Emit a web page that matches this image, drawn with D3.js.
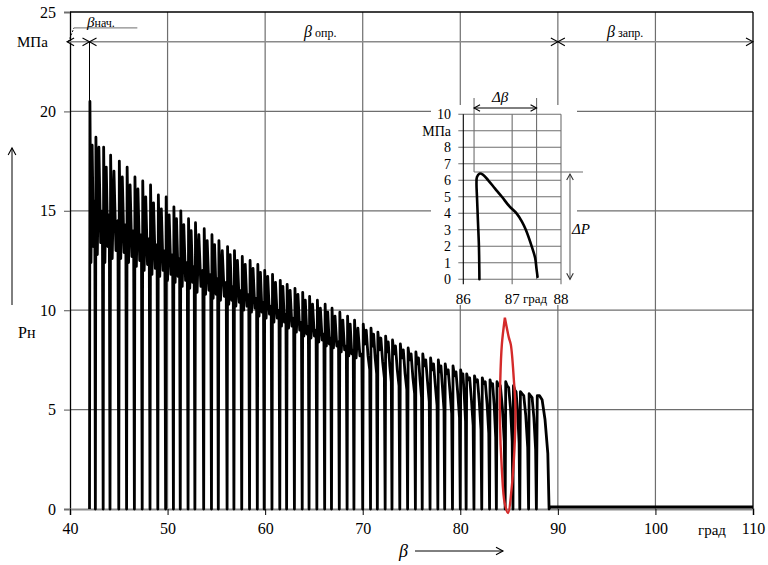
<!DOCTYPE html>
<html><head><meta charset="utf-8">
<script src="https://cdn.jsdelivr.net/npm/d3@7"></script>
<style>
body{margin:0;background:#fff}
svg{display:block}
text{font-family:"Liberation Serif","Times New Roman",serif;fill:#000}
</style>
</head><body>
<svg id="c" width="768" height="565"></svg>
<script>
// ---------- data ----------
const xTicks = [40, 50, 60, 70, 80, 90, 100, 110];
const yTicks = [0, 5, 10, 15, 20, 25];

// angle (deg) of every drop of the pressure to zero
const cycleStart = [
  42.0, 42.6, 43.4, 44.1, 45.0, 45.8, 46.6, 47.4, 48.2, 49.0,
  49.8, 50.6, 51.3, 52.1, 52.8, 53.7, 54.5, 55.2, 56.1, 56.8,
  57.6, 58.4, 59.2, 59.9, 60.7, 61.5, 62.2, 63.0, 63.8, 64.5,
  65.3, 66.1, 66.8, 67.6, 68.4, 69.1, 70.0, 70.8, 71.5, 72.3,
  73.0, 73.8, 74.6, 75.4, 76.1, 76.9, 77.7, 78.4, 79.2, 80.0,
  80.6, 81.4, 82.2, 83.0, 83.7, 84.6, 85.4, 86.1, 87.0, 87.8,
  89.1
];
// pressure inside each cycle: [first peak, trough, second peak, trough, value before drop] (MPa)
const cycleP = [
  [20.5, 12.4, 18.3, 13.2, 15.5], [18.7, 12.8, 18.2, 13.4, 15.0], [18.2, 12.4, 17.2, 13.2, 14.8],
  [17.8, 12.6, 17.0, 13.0, 14.5], [17.5, 12.6, 16.7, 12.9, 14.3], [17.2, 12.4, 16.3, 12.7, 14.0],
  [16.7, 12.2, 16.1, 12.5, 13.8], [16.5, 12.0, 15.7, 12.3, 13.6], [16.3, 11.8, 15.4, 12.1, 13.3],
  [15.8, 11.7, 15.1, 12.0, 13.0], [15.7, 11.5, 14.8, 11.8, 12.8], [15.2, 11.4, 14.6, 11.7, 12.6],
  [15.0, 11.2, 14.3, 11.5, 12.4], [14.6, 11.1, 14.0, 11.4, 12.2], [14.4, 10.9, 13.8, 11.2, 12.0],
  [14.1, 10.8, 13.5, 11.0, 11.8], [13.8, 10.6, 13.3, 10.8, 11.6], [13.5, 10.5, 13.0, 10.7, 11.4],
  [13.2, 10.3, 12.8, 10.5, 11.2], [13.0, 10.2, 12.5, 10.4, 11.0], [12.7, 10.0, 12.3, 10.2, 10.8],
  [12.5, 9.9, 12.1, 10.1, 10.6], [12.3, 9.7, 11.9, 9.9, 10.4], [12.0, 9.6, 11.7, 9.8, 10.2],
  [11.8, 9.4, 11.4, 9.6, 10.0], [11.5, 9.2, 11.2, 9.4, 9.8], [11.3, 9.1, 11.0, 9.2, 9.6],
  [11.1, 8.9, 10.8, 9.0, 9.4], [10.9, 8.7, 10.5, 8.8, 9.2], [10.7, 8.6, 10.3, 8.7, 9.0],
  [10.5, 8.4, 10.1, 8.5, 8.8], [10.3, 8.2, 9.9, 8.3, 8.6], [10.1, 8.1, 9.7, 8.2, 8.4],
  [9.9, 7.9, 9.5, 8.0, 8.2], [9.7, 7.7, 9.3, 7.8, 8.0], [9.5, 7.6, 9.1, 7.7, 7.8],
  [9.3, 8.3, 9.0, 7.7, 7.0], [9.1, 8.2, 8.8, 7.6, 6.8], [8.9, 8.0, 8.6, 7.4, 6.6],
  [8.7, 7.9, 8.4, 7.2, 6.4], [8.5, 7.8, 8.2, 7.0, 6.2], [8.3, 7.6, 8.0, 6.8, 6.0],
  [8.1, 7.5, 7.8, 6.6, 5.8], [7.9, 7.3, 7.6, 6.5, 5.6], [7.8, 7.2, 7.5, 6.4, 5.4],
  [7.6, 7.0, 7.3, 6.2, 5.2], [7.5, 6.9, 7.2, 6.1, 5.0], [7.3, 6.8, 7.0, 5.9, 4.8],
  [7.2, 6.7, 6.9, 5.8, 4.6], [7.0, 6.6, 6.8, 5.7, 4.4], [6.8, 6.5, 6.6, 5.5, 4.2],
  [6.7, 6.4, 6.5, 5.4, 4.0], [6.6, 6.3, 6.4, 5.3, 3.8], [6.5, 6.2, 6.3, 5.2, 3.6],
  [6.4, 6.2, 6.2, 5.1, 3.4], [6.4, 6.2, 6.1, 5.1, 3.4], [6.2, 6.0, 5.9, 4.9, 3.3],
  [5.9, 5.8, 5.7, 4.7, 3.1], [5.8, 5.7, 5.6, 4.6, 3.0], [5.7, 5.7, 5.5, 4.5, 2.8]
];
const cycleFrac = [0.07, 0.25, 0.45, 0.68, 0.9];   // where the five values sit inside a cycle
const tailP = [[89.2, 0.1], [110, 0.1]];             // after the last drop

// range marks on the top line
const rangeBounds = [39.7, 42, 90, 110];
const rangeY = 23.5;

// inset (zoom of one cycle)
const insetXTicks = [86, 87, 88];
const insetYTicks = [0, 1, 2, 3, 4, 5, 6, 7, 8, 9, 10];
const insetCurve = [
  [86.33, 0], [86.32, 2.0], [86.30, 3.5], [86.28, 5.0], [86.27, 5.8], [86.28, 6.2],
  [86.33, 6.4], [86.40, 6.35], [86.51, 6.0], [86.65, 5.5], [86.79, 5.0], [86.95, 4.4],
  [87.09, 4.0], [87.20, 3.5], [87.28, 3.0], [87.40, 2.0], [87.47, 1.3], [87.50, 0.6], [87.52, 0.15]
];
const dBeta = [86.22, 87.5];
const dP = [0, 6.5];

// red hand-drawn loop round one cycle
const redLoop = [
  [84.57, 9.62], [84.98, 8.62], [85.18, 8.27], [85.49, 6.5], [85.66, 5.0], [85.55, 3.0],
  [85.25, 0.97], [84.9, -0.2], [84.55, 0.3], [84.26, 1.98], [84.06, 4.5], [84.1, 6.5],
  [84.26, 8.27], [84.57, 9.62]
];

// ---------- drawing ----------
const svg = d3.select("#c");
const x = d3.scaleLinear().domain([40, 110]).range([70, 753]);
const y = d3.scaleLinear().domain([0, 25]).range([509, 12]);
const GRID = "#6e6e6e";

function chevron(g, px, py, dir, size = 7, col = "#000") {
  const s = size, h = size * 0.55;
  let d;
  if (dir === "r") d = `M${px - s},${py - h}L${px},${py}L${px - s},${py + h}`;
  if (dir === "l") d = `M${px + s},${py - h}L${px},${py}L${px + s},${py + h}`;
  if (dir === "u") d = `M${px - h},${py + s}L${px},${py}L${px + h},${py + s}`;
  if (dir === "d") d = `M${px - h},${py - s}L${px},${py}L${px + h},${py - s}`;
  g.append("path").attr("d", d).attr("fill", "none").attr("stroke", col).attr("stroke-width", 1.1);
}

// grid
const grid = svg.append("g");
grid.selectAll(".vg").data(xTicks.slice(1, -1)).join("line")
  .attr("x1", d => x(d)).attr("x2", d => x(d)).attr("y1", y(25)).attr("y2", y(0))
  .attr("stroke", GRID).attr("stroke-width", 1.2);
grid.selectAll(".hg").data(yTicks.slice(1, -1)).join("line")
  .attr("x1", x(40)).attr("x2", x(110)).attr("y1", d => y(d)).attr("y2", d => y(d))
  .attr("stroke", GRID).attr("stroke-width", 1.2);

// axes via d3
const yAxis = d3.axisLeft(y).tickValues(yTicks).tickSize(6).tickFormat(d3.format("d"));
const gy = svg.append("g").attr("transform", `translate(${x(40)},0)`).call(yAxis);
gy.select(".domain").attr("stroke", "#000").attr("stroke-width", 1.3);
gy.selectAll(".tick line").attr("stroke", GRID).attr("stroke-width", 1.2);
gy.selectAll(".tick text").attr("x", -14).style("font-size", "16px")
  .style("font-family", "'Liberation Serif',serif").attr("fill", "#000");

const xAxis = d3.axisBottom(x).tickValues(xTicks).tickSize(6).tickFormat(d3.format("d"));
const gx = svg.append("g").attr("transform", `translate(0,${y(0)})`).call(xAxis);
gx.select(".domain").attr("stroke", "#8a8a8a").attr("stroke-width", 2);
gx.selectAll(".tick line").attr("stroke", "#000").attr("stroke-width", 1);
gx.selectAll(".tick text").attr("y", 14).style("font-size", "16px")
  .style("font-family", "'Liberation Serif',serif").attr("fill", "#000");

// top and right border
svg.append("line").attr("x1", x(40)).attr("x2", x(110)).attr("y1", y(25)).attr("y2", y(25))
  .attr("stroke", "#000").attr("stroke-width", 1.3);
svg.append("line").attr("x1", x(110)).attr("x2", x(110)).attr("y1", y(25)).attr("y2", y(0))
  .attr("stroke", "#000").attr("stroke-width", 1.3);

// range line with arrows
const rg = svg.append("g");
rg.append("line").attr("x1", x(rangeBounds[0])).attr("x2", x(110)).attr("y1", y(rangeY)).attr("y2", y(rangeY))
  .attr("stroke", "#8a8a8a").attr("stroke-width", 1.6);
chevron(rg, x(rangeBounds[0]), y(rangeY), "l");
chevron(rg, x(rangeBounds[1]), y(rangeY), "r");
chevron(rg, x(rangeBounds[1]), y(rangeY), "l");
chevron(rg, x(rangeBounds[2]), y(rangeY), "r");
chevron(rg, x(rangeBounds[2]), y(rangeY), "l");
chevron(rg, x(rangeBounds[3]), y(rangeY), "r");
// start marker
rg.append("line").attr("x1", x(42)).attr("x2", x(42)).attr("y1", y(rangeY)).attr("y2", y(0))
  .attr("stroke", "#000").attr("stroke-width", 1);
rg.append("path").attr("d", `M${x(39.85)},${y(rangeY)}L${x(40.4)},${y(24.2)}`)
  .attr("stroke", "#000").attr("stroke-width", 0.9).attr("stroke-dasharray", "2,1.5").attr("fill", "none");
rg.append("line").attr("x1", x(40.4)).attr("x2", x(46.9)).attr("y1", y(24.2)).attr("y2", y(24.2))
  .attr("stroke", "#8a8a8a").attr("stroke-width", 1.2);

const t1 = svg.append("text").attr("x", x(41.75)).attr("y", 27);
t1.append("tspan").text("β").style("font-style", "italic").style("font-size", "15px");
t1.append("tspan").text("нач.").style("font-size", "12px");
const t2 = svg.append("text").attr("x", 304).attr("y", 37);
t2.append("tspan").text("β").style("font-style", "italic").style("font-size", "16px");
t2.append("tspan").text(" опр.").style("font-size", "12px");
const t3 = svg.append("text").attr("x", 607).attr("y", 37);
t3.append("tspan").text("β").style("font-style", "italic").style("font-size", "16px");
t3.append("tspan").text(" запр.").style("font-size", "12px");

// axis titles
svg.append("text").attr("x", 17).attr("y", 47).style("font-size", "15px").text("МПа");
svg.append("text").attr("x", 18).attr("y", 338).style("font-size", "16px").text("Рн");
svg.append("line").attr("x1", 12).attr("x2", 12).attr("y1", 305).attr("y2", 148)
  .attr("stroke", "#000").attr("stroke-width", 1);
chevron(svg, 12, 148, "u");
svg.append("text").attr("x", 698).attr("y", 535).style("font-size", "15px").text("град");
svg.append("text").attr("x", 399).attr("y", 557).style("font-size", "18px").style("font-style", "italic").text("β");
svg.append("line").attr("x1", 415).attr("x2", 503).attr("y1", 551).attr("y2", 551)
  .attr("stroke", "#000").attr("stroke-width", 1);
chevron(svg, 503, 551, "r");

// main pressure signal
const pts = [];
for (let i = 0; i < cycleP.length; i++) {
  const d0 = cycleStart[i], L = cycleStart[i + 1] - d0;
  pts.push([d0, 0]);
  cycleP[i].forEach((v, k) => pts.push([d0 + cycleFrac[k] * L, v]));
}
pts.push([cycleStart[cycleStart.length - 1], 0]);
tailP.forEach(p => pts.push(p));
const line = d3.line().x(d => x(d[0])).y(d => y(d[1]));
svg.append("path").attr("d", line(pts)).attr("fill", "none")
  .attr("stroke", "#000").attr("stroke-width", 2.8).attr("stroke-linejoin", "round");

// ---------- inset ----------
const ix = d3.scaleLinear().domain([86, 88]).range([463.3, 561]);
const iy = d3.scaleLinear().domain([0, 10]).range([279.3, 114.3]);
const ins = svg.append("g");
ins.append("rect").attr("x", 431).attr("y", 105).attr("width", 146).attr("height", 200).attr("fill", "#fff");
ins.selectAll(".ih").data(insetYTicks).join("line")
  .attr("x1", ix(86) - 5).attr("x2", ix(88)).attr("y1", d => iy(d)).attr("y2", d => iy(d))
  .attr("stroke", GRID).attr("stroke-width", 1.1);
ins.selectAll(".iv").data(insetXTicks).join("line")
  .attr("x1", d => ix(d)).attr("x2", d => ix(d)).attr("y1", iy(10)).attr("y2", iy(0) + 5)
  .attr("stroke", (d, i) => i === 0 ? "#000" : GRID).attr("stroke-width", 1.1);
ins.selectAll(".iyl").data(insetYTicks).join("text")
  .attr("x", 451).attr("y", d => iy(d)).attr("dy", "0.35em").attr("text-anchor", "end")
  .style("font-size", "14px").text(d => d === 9 ? "МПа" : d);
ins.selectAll(".ixl").data(insetXTicks).join("text")
  .attr("x", d => ix(d)).attr("y", 304).attr("text-anchor", "middle")
  .style("font-size", "15px").text(d => d);
ins.append("text").attr("x", 523).attr("y", 303).style("font-size", "13px").text("град");

// Δβ marks
ins.selectAll(".db").data(dBeta).join("line")
  .attr("x1", d => ix(d)).attr("x2", d => ix(d))
  .attr("y1", 98).attr("y2", (d, i) => i === 0 ? iy(dP[1]) : iy(0))
  .attr("stroke", GRID).attr("stroke-width", 1.1);
ins.append("line").attr("x1", ix(dBeta[0])).attr("x2", ix(dBeta[1])).attr("y1", 108).attr("y2", 108)
  .attr("stroke", "#000").attr("stroke-width", 1);
chevron(ins, ix(dBeta[0]), 108, "l", 6);
chevron(ins, ix(dBeta[1]), 108, "r", 6);
ins.append("text").attr("x", 492).attr("y", 102).style("font-size", "15px").style("font-style", "italic").text("Δβ");

// ΔP marks
ins.append("line").attr("x1", ix(dBeta[0])).attr("x2", 583).attr("y1", iy(dP[1])).attr("y2", iy(dP[1]))
  .attr("stroke", GRID).attr("stroke-width", 1.1);
ins.append("line").attr("x1", 570).attr("x2", 570).attr("y1", iy(dP[1]) + 2).attr("y2", iy(dP[0]))
  .attr("stroke", "#666").attr("stroke-width", 1.1);
chevron(ins, 570, iy(dP[1]) + 2, "u", 6, "#333");
chevron(ins, 570, iy(dP[0]), "d", 6, "#333");
ins.append("text").attr("x", 572).attr("y", 234).style("font-size", "15px").style("font-style", "italic").text("ΔP");

const il = d3.line().x(d => ix(d[0])).y(d => iy(d[1])).curve(d3.curveCatmullRom);
ins.append("path").attr("d", il(insetCurve)).attr("fill", "none")
  .attr("stroke", "#000").attr("stroke-width", 2.6).attr("stroke-linecap", "round");

// red loop
const rl = d3.line().x(d => x(d[0])).y(d => y(d[1])).curve(d3.curveCatmullRom);
svg.append("path").attr("d", rl(redLoop)).attr("fill", "none")
  .attr("stroke", "#d42a2a").attr("stroke-width", 2.4);
</script>
</body></html>
